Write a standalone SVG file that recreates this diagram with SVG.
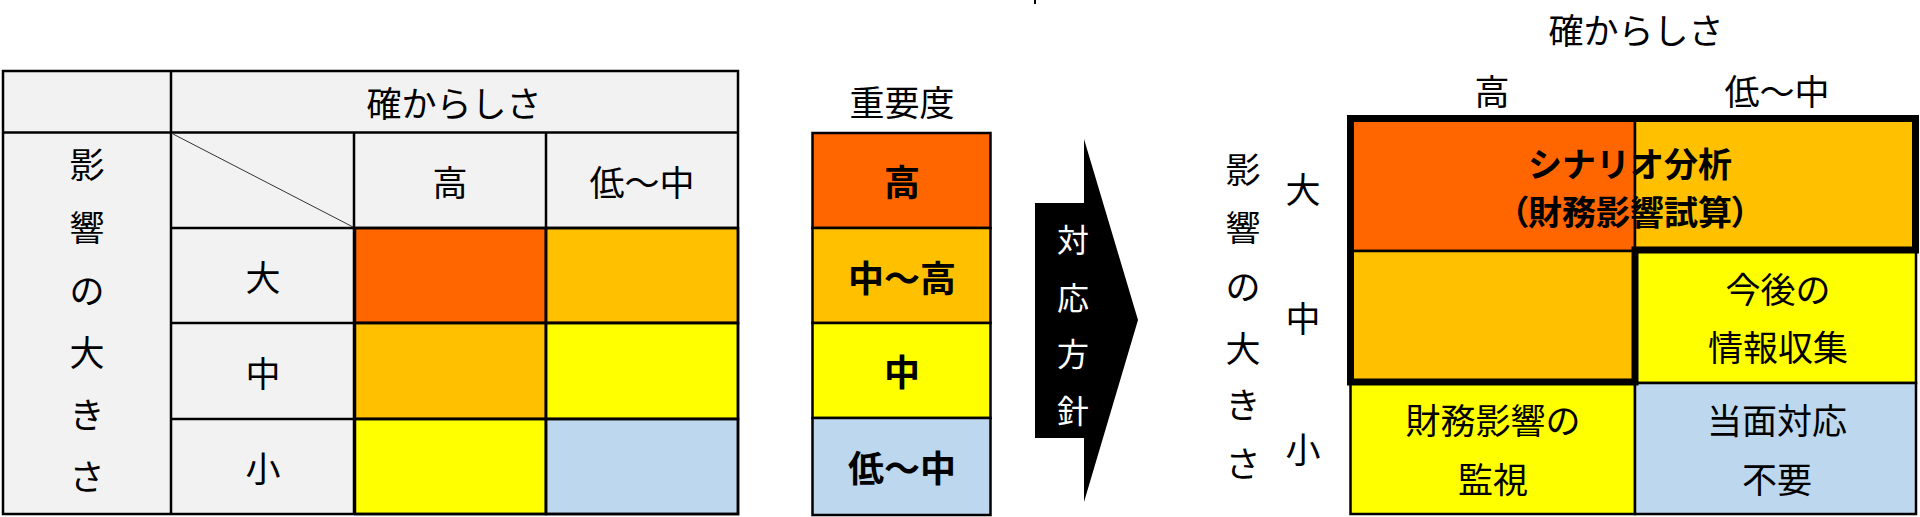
<svg xmlns="http://www.w3.org/2000/svg" width="1920" height="517" viewBox="0 0 1920 517">
<defs>
<style>
.t{font-family:"Noto Sans CJK JP","Noto Sans CJK SC",sans-serif;font-size:35px;fill:#000;text-anchor:middle;dominant-baseline:central}
.b{font-family:"Noto Sans CJK JP","Noto Sans CJK SC",sans-serif;font-size:36px;font-weight:bold;fill:#000;text-anchor:middle;dominant-baseline:central}
.s{font-size:34px}
.w{fill:#fff;font-size:32px}
.g{fill:#F2F2F2}
.o{fill:#FF6600}
.a{fill:#FFC000}
.y{fill:#FFFF00}
.l{fill:#BDD7EE}
.ln{stroke:#000;stroke-width:2.5;fill:none}
.cell{stroke:#000;stroke-width:2.5}
</style>
</defs>
<rect width="1920" height="517" fill="#fff"/>
<rect x="1034" y="0" width="2" height="4" fill="#000"/>

<g id="left-table">
<rect class="g" x="3" y="71" width="735" height="443"/>
<rect class="o cell" x="355" y="228" width="191" height="95"/>
<rect class="a cell" x="546" y="228" width="192" height="95"/>
<rect class="a cell" x="355" y="323" width="191" height="96"/>
<rect class="y cell" x="546" y="323" width="192" height="96"/>
<rect class="y cell" x="355" y="419" width="191" height="95"/>
<rect class="l cell" x="546" y="419" width="192" height="95"/>
<rect class="ln" x="3" y="71" width="735" height="443"/>
<line class="ln" x1="171" y1="71" x2="171" y2="514"/>
<line class="ln" x1="3" y1="132.5" x2="738" y2="132.5"/>
<line class="ln" x1="354" y1="132.5" x2="354" y2="514"/>
<line class="ln" x1="546" y1="132.5" x2="546" y2="514"/>
<line class="ln" x1="171" y1="228" x2="738" y2="228"/>
<line class="ln" x1="171" y1="323" x2="738" y2="323"/>
<line class="ln" x1="171" y1="419" x2="738" y2="419"/>
<line x1="173" y1="134" x2="353" y2="227" stroke="#333" stroke-width="1"/>
<text class="t" x="454" y="101">確からしさ</text>
<text class="t" x="450" y="180">高</text>
<text class="t" x="642" y="180">低～中</text>
<text class="t" x="263" y="275">大</text>
<text class="t" x="263" y="371">中</text>
<text class="t" x="263" y="466">小</text>
<text class="t" x="87" y="162">影</text>
<text class="t" x="87" y="225">響</text>
<text class="t" x="87" y="288">の</text>
<text class="t" x="87" y="350">大</text>
<text class="t" x="87" y="412">き</text>
<text class="t" x="87" y="474">さ</text>
</g>

<g id="importance">
<text class="t" x="902" y="100">重要度</text>
<rect class="o cell" x="812.5" y="133" width="178" height="95"/>
<rect class="a cell" x="812.5" y="228" width="178" height="95"/>
<rect class="y cell" x="812.5" y="323" width="178" height="95"/>
<rect class="l cell" x="812.5" y="418" width="178" height="97"/>
<text class="b" x="902" y="180">高</text>
<text class="b" x="902" y="276">中～高</text>
<text class="b" x="902" y="370">中</text>
<text class="b" x="902" y="466">低～中</text>
</g>

<g id="arrow">
<polygon points="1035,203 1084,203 1084,139 1138,320 1084,502 1084,438 1035,438" fill="#000"/>
<text class="t w" x="1073" y="238">対</text>
<text class="t w" x="1073" y="296">応</text>
<text class="t w" x="1073" y="352">方</text>
<text class="t w" x="1073" y="409">針</text>
</g>

<g id="right-matrix">
<text class="t" x="1636" y="28">確からしさ</text>
<text class="t" x="1492" y="89">高</text>
<text class="t" x="1777" y="89">低～中</text>
<text class="t" x="1243" y="167">影</text>
<text class="t" x="1243" y="225">響</text>
<text class="t" x="1243" y="284">の</text>
<text class="t" x="1243" y="346">大</text>
<text class="t" x="1243" y="402">き</text>
<text class="t" x="1243" y="461">さ</text>
<text class="t" x="1303" y="187">大</text>
<text class="t" x="1303" y="316">中</text>
<text class="t" x="1303" y="447">小</text>
<rect class="o cell" x="1350.5" y="118.5" width="284.5" height="132.5"/>
<rect class="a cell" x="1635" y="118.5" width="281" height="132.5"/>
<rect class="a cell" x="1350.5" y="251" width="284.5" height="132"/>
<rect class="y cell" x="1635" y="251" width="281" height="132"/>
<rect class="y cell" x="1350.5" y="383" width="284.5" height="131"/>
<rect class="l cell" x="1635" y="383" width="281" height="131"/>
<path d="M1350.5,118.5 H1915.5 V250 H1635 V382 H1350.5 Z" fill="none" stroke="#000" stroke-width="7"/>
<text class="b s" x="1630" y="162">シナリオ分析</text>
<text class="b s" x="1630" y="210" style="font-feature-settings:'palt'">（財務影響試算）</text>
<text class="t" x="1778" y="287">今後の</text>
<text class="t" x="1778" y="345">情報収集</text>
<text class="t" x="1493" y="418">財務影響の</text>
<text class="t" x="1493" y="477">監視</text>
<text class="t" x="1777" y="418">当面対応</text>
<text class="t" x="1777" y="477">不要</text>
</g>
</svg>
